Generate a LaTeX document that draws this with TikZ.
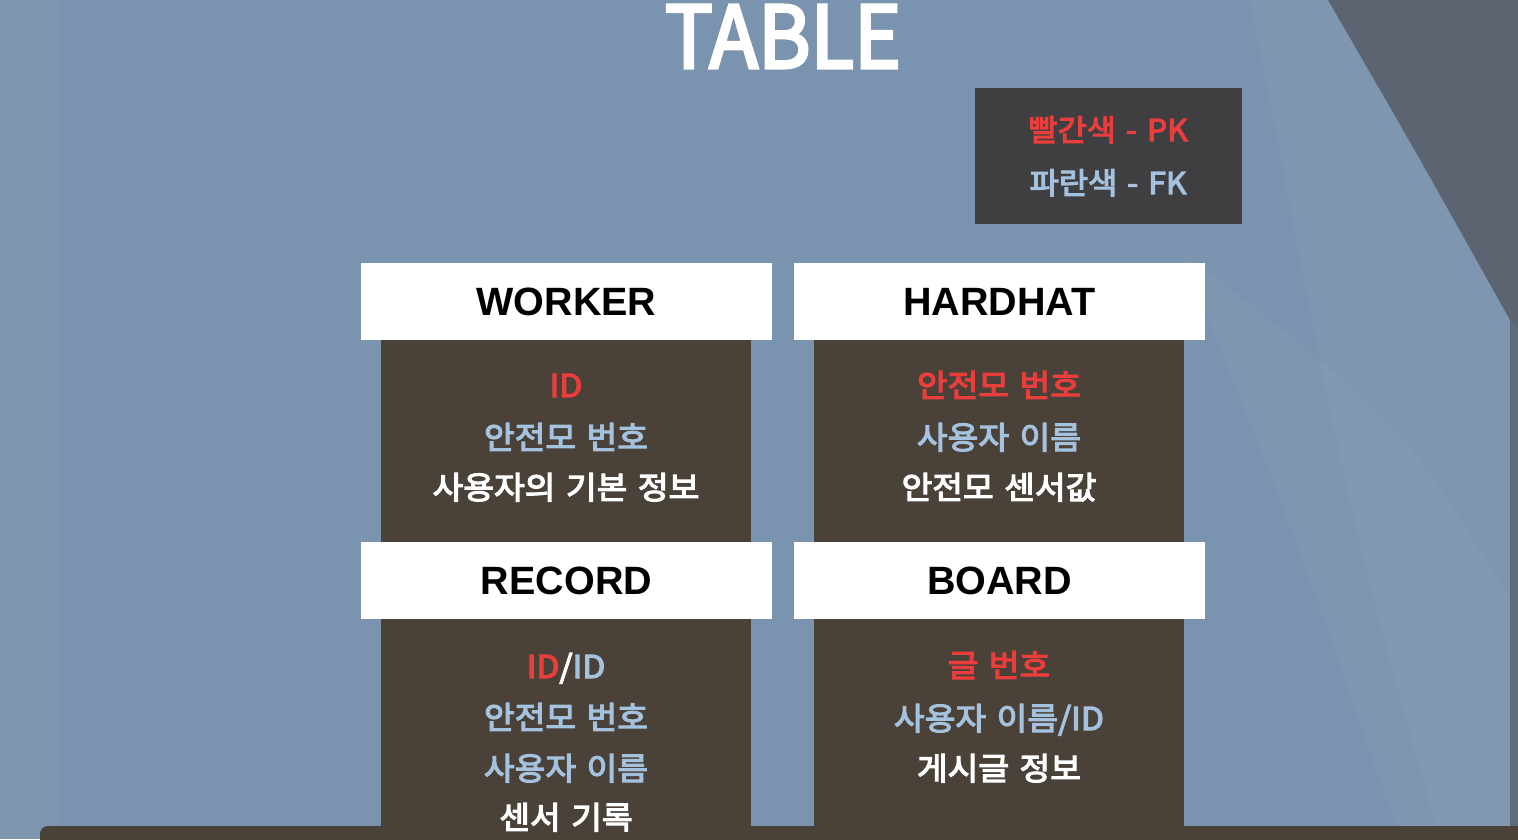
\documentclass[tikz,border=0pt]{standalone}
\usepackage{fontspec}
\setmainfont{Noto Sans CJK KR}
\newfontfamily\kr{Noto Sans CJK KR}[FakeStretch=1.06,FakeBold=3.8,WordSpace=1.4]
\newfontfamily\ttl{Noto Sans CJK KR}[FakeBold=3.5,FakeStretch=0.93]
\newfontfamily\hd{Liberation Sans}
\definecolor{bgblue}{HTML}{7A93AE}
\definecolor{bodybrown}{HTML}{4A4139}
\definecolor{legendgrey}{HTML}{3F3F41}
\definecolor{pkred}{HTML}{EC3D3D}
\definecolor{fkblue}{HTML}{A4C1DD}
\definecolor{woodgrey}{HTML}{5B6470}
\begin{document}
\begin{tikzpicture}[x=1pt,y=-1pt,
  hdrbox/.style={fill=white,draw=none,minimum width=411pt,minimum height=77pt,inner sep=0pt,
    font=\hd\bfseries\fontsize{39.5}{40}\selectfont,text=black},
  bodybox/.style={fill=bodybrown,draw=none,minimum width=370pt,minimum height=499pt,inner sep=0pt,anchor=north},
  fld/.style={font=\kr\fontsize{31.5}{32}\selectfont,anchor=base,inner sep=0pt},
  pk/.style={fld,text=pkred},
  fk/.style={fld,text=fkblue},
  plain/.style={fld,text=white},
  legtxt/.style={font=\kr\fontsize{30}{30}\selectfont,anchor=base,inner sep=0pt}]
\useasboundingbox (0,0) rectangle (1518,839);
\clip (0,0) rectangle (1518,839);
% background
\fill[bgblue] (0,0) rectangle (1518,839);
\fill[white,opacity=0.025] (0,0) rectangle (60,839);
\fill[white,opacity=0.03] (1250,0) -- (1328,0) -- (1510,320) -- (1510,839) -- (1440,839) .. controls (1350,520) .. (1250,0) -- cycle;
\fill[white,opacity=0.03] (1180,250) .. controls (1290,520) .. (1400,839) -- (1510,839) -- (1510,600) .. controls (1400,420) .. (1180,250) -- cycle;
\fill[woodgrey] (1328,0) .. controls (1415,150) .. (1510,320) -- (1518,330) -- (1518,0) -- cycle;
\fill[woodgrey,opacity=0.85] (1510,0) rectangle (1518,839);
% title
\node[font=\ttl\fontsize{86}{86}\selectfont,text=white,anchor=base,inner sep=0pt] (title) at (783,68) {TABLE};
% legend
\node[fill=legendgrey,minimum width=267pt,minimum height=136pt,inner sep=0pt] (legend) at (1108.5,156) {};
\node[legtxt,text=pkred] (legpk) at (1108,141) {빨간색 - PK};
\node[legtxt,text=fkblue] (legfk) at (1108,194) {파란색 - FK};
% bodies
\node[bodybox] (workerbody) at (566,340) {};
\node[bodybox] (hardhatbody) at (999,340) {};
% bottom bar
\fill[bodybrown,rounded corners=8pt] (40,826) rectangle (1540,860);
% headers
\node[hdrbox] (worker) at (566.5,301.5) {WORKER};
\node[hdrbox] (hardhat) at (999.5,301.5) {HARDHAT};
\node[hdrbox] (record) at (566.5,580.5) {RECORD};
\node[hdrbox] (board) at (999.5,580.5) {BOARD};
% WORKER fields
\node[pk] (w1) at (566,397) {ID};
\node[fk] (w2) at (566,449) {안전모 번호};
\node[plain] (w3) at (566,499) {사용자의 기본 정보};
% HARDHAT fields
\node[pk] (h1) at (999,397) {안전모 번호};
\node[fk] (h2) at (999,449) {사용자 이름};
\node[plain] (h3) at (999,499) {안전모 센서값};
% RECORD fields
\node[fld] (r1) at (566,678) {\textcolor{pkred}{ID}\textcolor{white}{/}\textcolor{fkblue}{ID}};
\node[fk] (r2) at (566,729) {안전모 번호};
\node[fk] (r3) at (566,780) {사용자 이름};
\node[plain] (r4) at (566,829) {센서 기록};
% BOARD fields
\node[pk] (b1) at (999,677) {글 번호};
\node[fk] (b2) at (999,730) {사용자 이름/ID};
\node[plain] (b3) at (999,780) {게시글 정보};
\end{tikzpicture}
\end{document}
